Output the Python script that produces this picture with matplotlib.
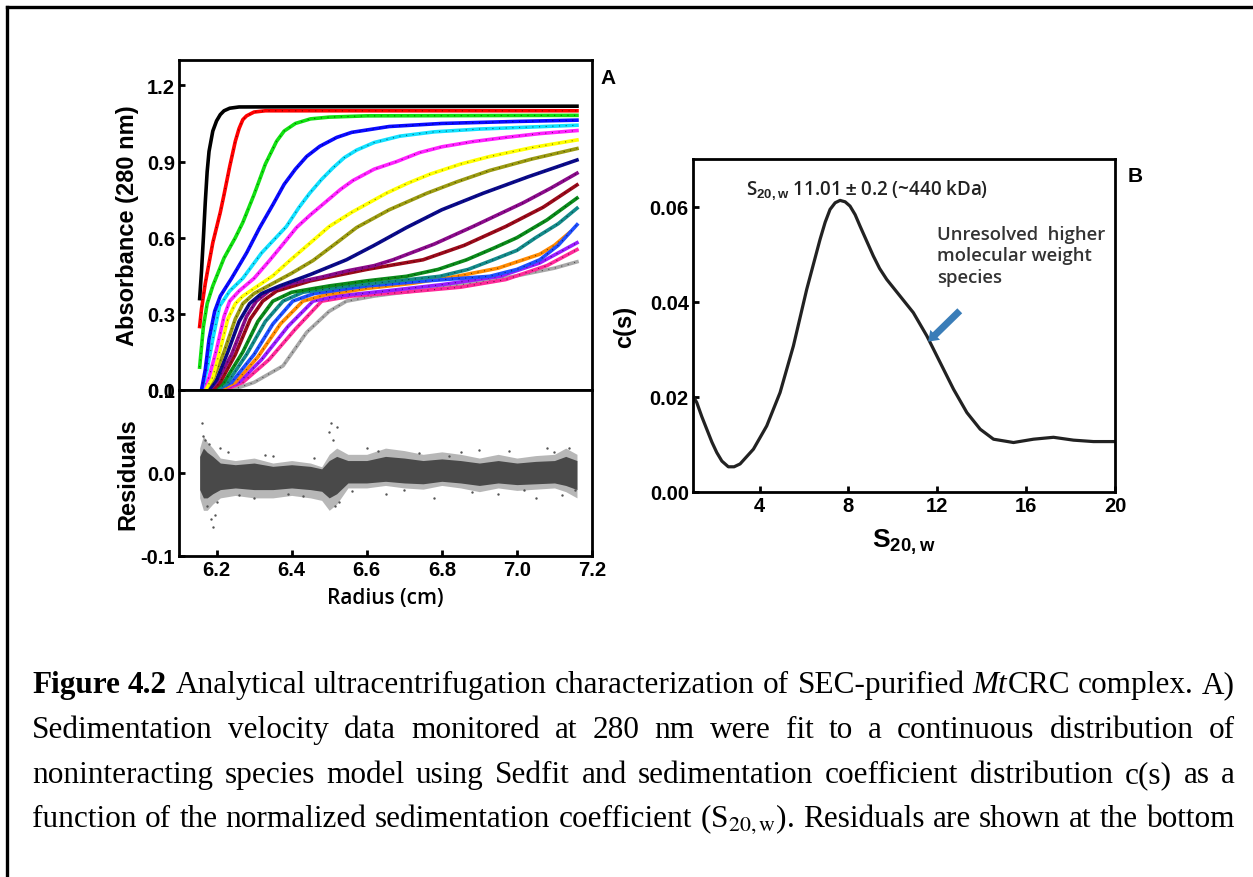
import re
import matplotlib
matplotlib.use("Agg")
import matplotlib.pyplot as plt
from matplotlib.lines import Line2D

W, H = 1253, 878

# ---- panel A: sedimentation boundaries (radius in cm, absorbance) ----
r_black = [6.155, 6.16, 6.165, 6.17, 6.175, 6.18, 6.19, 6.2, 6.21, 6.22, 6.235, 6.26, 7.16]
a_black = [0.36, 0.47, 0.60, 0.74, 0.86, 0.94, 1.02, 1.06, 1.085, 1.10, 1.11, 1.115, 1.118]
r_red = [6.155, 6.16, 6.17, 6.19, 6.21, 6.22, 6.235, 6.25, 6.26, 6.27, 6.28, 6.30, 6.33, 7.16]
a_red = [0.25, 0.32, 0.42, 0.58, 0.70, 0.77, 0.88, 0.98, 1.03, 1.065, 1.08, 1.095, 1.10, 1.10]
r_green = [6.155, 6.165, 6.175, 6.19, 6.22, 6.25, 6.27, 6.30, 6.33, 6.36, 6.38, 6.41, 6.45, 6.5, 6.6, 7.16]
a_green = [0.09, 0.25, 0.34, 0.41, 0.52, 0.60, 0.66, 0.77, 0.89, 0.98, 1.02, 1.05, 1.068, 1.075, 1.08, 1.082]
r_blue = [6.16, 6.17, 6.18, 6.195, 6.21, 6.24, 6.28, 6.315, 6.35, 6.38, 6.41, 6.44, 6.475, 6.52, 6.56,
          6.66, 6.8, 7.0, 7.16]
a_blue = [0.0, 0.08, 0.2, 0.31, 0.37, 0.44, 0.54, 0.64, 0.73, 0.81, 0.87, 0.92, 0.96, 0.995, 1.015,
          1.038, 1.05, 1.058, 1.063]
r_cyan = [6.16, 6.175, 6.19, 6.208, 6.235, 6.27, 6.32, 6.386, 6.42, 6.448, 6.48, 6.51, 6.54, 6.573, 6.62,
          6.688, 6.78, 6.9, 7.16]
a_cyan = [0.0, 0.08, 0.2, 0.33, 0.39, 0.44, 0.54, 0.644, 0.72, 0.775, 0.83, 0.875, 0.915, 0.945, 0.975,
          1.0, 1.017, 1.028, 1.043]
r_magenta = [6.16, 6.18, 6.2, 6.22, 6.235, 6.26, 6.3, 6.341, 6.38, 6.413, 6.45, 6.49, 6.53, 6.563, 6.62,
             6.68, 6.74, 6.8, 6.88, 6.97, 7.06, 7.16]
a_magenta = [0.0, 0.05, 0.16, 0.29, 0.35, 0.39, 0.44, 0.51, 0.58, 0.64, 0.69, 0.74, 0.79, 0.825, 0.87,
             0.9, 0.935, 0.958, 0.978, 0.995, 1.01, 1.022]
r_yellow = [6.17, 6.19, 6.21, 6.23, 6.25, 6.27, 6.3, 6.35, 6.395, 6.45, 6.5, 6.56, 6.652, 6.71, 6.768,
            6.85, 6.928, 7.04, 7.16]
a_yellow = [0.0, 0.05, 0.16, 0.28, 0.34, 0.37, 0.40, 0.45, 0.51, 0.58, 0.644, 0.70, 0.775, 0.815, 0.85,
            0.89, 0.92, 0.955, 0.985]
r_olive = [6.17, 6.19, 6.22, 6.25, 6.27, 6.3, 6.35, 6.4, 6.457, 6.52, 6.573, 6.66, 6.76, 6.84, 6.928,
           7.04, 7.16]
a_olive = [0.0, 0.04, 0.15, 0.28, 0.34, 0.38, 0.42, 0.46, 0.51, 0.58, 0.64, 0.71, 0.775, 0.82, 0.865,
           0.91, 0.951]
r_navy = [6.18, 6.2, 6.23, 6.26, 6.288, 6.32, 6.368, 6.45, 6.546, 6.62, 6.706, 6.8, 6.91, 7.03, 7.16]
a_navy = [0.0, 0.04, 0.15, 0.27, 0.34, 0.38, 0.41, 0.455, 0.513, 0.57, 0.64, 0.71, 0.775, 0.84, 0.906]
r_purple = [6.18, 6.2, 6.24, 6.28, 6.306, 6.34, 6.4, 6.48, 6.55, 6.62, 6.67, 6.78, 6.883, 7.016, 7.09, 7.16]
a_purple = [0.0, 0.03, 0.14, 0.29, 0.35, 0.39, 0.42, 0.445, 0.47, 0.49, 0.513, 0.575, 0.644, 0.737, 0.795,
            0.854]
r_maroon = [6.19, 6.21, 6.25, 6.29, 6.323, 6.36, 6.45, 6.6, 6.75, 6.86, 6.97, 7.07, 7.16]
a_maroon = [0.0, 0.03, 0.14, 0.28, 0.35, 0.39, 0.43, 0.475, 0.513, 0.57, 0.644, 0.72, 0.808]
r_dkgreen = [6.19, 6.22, 6.27, 6.31, 6.35, 6.4, 6.5, 6.6, 6.706, 6.79, 6.866, 6.94, 7.0, 7.08, 7.16]
a_dkgreen = [0.0, 0.03, 0.15, 0.27, 0.35, 0.385, 0.41, 0.43, 0.448, 0.475, 0.513, 0.56, 0.6, 0.67, 0.756]
r_teal = [6.2, 6.23, 6.28, 6.33, 6.377, 6.43, 6.55, 6.68, 6.795, 6.87, 6.937, 7.0, 7.05, 7.11, 7.16]
a_teal = [0.0, 0.03, 0.14, 0.27, 0.35, 0.385, 0.41, 0.43, 0.448, 0.475, 0.513, 0.55, 0.6, 0.655, 0.716]
r_royal = [6.2, 6.24, 6.3, 6.35, 6.403, 6.46, 6.6, 6.76, 6.928, 7.0, 7.061, 7.11, 7.16]
a_royal = [0.0, 0.03, 0.14, 0.26, 0.35, 0.38, 0.41, 0.43, 0.448, 0.475, 0.513, 0.57, 0.651]
r_orange = [6.21, 6.25, 6.31, 6.37, 6.43, 6.49, 6.6, 6.72, 6.84, 6.95, 7.061, 7.1, 7.14]
a_orange = [0.0, 0.03, 0.13, 0.26, 0.35, 0.375, 0.40, 0.42, 0.448, 0.48, 0.535, 0.57, 0.62]
r_violet = [6.21, 6.26, 6.32, 6.39, 6.457, 6.52, 6.65, 6.8, 6.955, 7.06, 7.16]
a_violet = [0.0, 0.03, 0.12, 0.25, 0.35, 0.37, 0.39, 0.415, 0.448, 0.5, 0.58]
r_pink = [6.22, 6.27, 6.34, 6.41, 6.48, 6.56, 6.7, 6.85, 6.97, 7.08, 7.16]
a_pink = [0.0, 0.03, 0.12, 0.24, 0.35, 0.37, 0.385, 0.405, 0.435, 0.49, 0.553]
r_gray = [6.24, 6.3, 6.377, 6.44, 6.5, 6.546, 6.62, 6.75, 6.9, 7.0, 7.1, 7.16]
a_gray = [0.0, 0.03, 0.095, 0.227, 0.31, 0.35, 0.37, 0.395, 0.425, 0.45, 0.48, 0.505]

# residual band (upper / lower edge) and stray points
res_r = [6.155, 6.165, 6.175, 6.19, 6.21, 6.25, 6.3, 6.35, 6.4, 6.45, 6.48, 6.5, 6.52, 6.55,
         6.6, 6.65, 6.7, 6.75, 6.8, 6.85, 6.9, 6.95, 7.0, 7.05, 7.1, 7.13, 7.16]
res_hi = [0.02, 0.03, 0.025, 0.02, 0.012, 0.01, 0.012, 0.008, 0.01, 0.008, 0.005, 0.015, 0.02, 0.015,
          0.015, 0.02, 0.018, 0.015, 0.017, 0.015, 0.012, 0.015, 0.012, 0.014, 0.015, 0.02, 0.015]
res_lo = [-0.02, -0.03, -0.03, -0.025, -0.02, -0.018, -0.02, -0.02, -0.018, -0.02, -0.022, -0.03, -0.025, -0.012,
          -0.012, -0.01, -0.012, -0.013, -0.01, -0.012, -0.015, -0.012, -0.014, -0.013, -0.012, -0.015, -0.02]
out_r = [6.16, 6.165, 6.17, 6.175, 6.185, 6.19, 6.195, 6.2, 6.21, 6.23, 6.3, 6.35, 6.43, 6.5, 6.505,
         6.51, 6.515, 6.52, 6.525, 6.6, 6.65, 6.78, 6.85, 6.9, 6.95, 7.05, 7.1, 7.14, 7.155,
         6.18, 6.26, 6.33, 6.39, 6.46, 6.56, 6.63, 6.7, 6.74, 6.82, 6.88, 6.98, 7.02, 7.08, 7.12]
out_v = [0.06, 0.045, 0.04, -0.04, -0.055, -0.065, -0.05, -0.035, 0.03, 0.025, -0.03, 0.02, -0.028, 0.05, 0.06,
         0.04, -0.04, 0.055, -0.035, 0.03, -0.025, -0.03, 0.025, 0.028, -0.025, -0.03, 0.025, 0.03, -0.02,
         0.035, -0.027, 0.022, -0.025, 0.018, -0.022, 0.026, -0.02, 0.024, 0.021, -0.023, 0.027, -0.021, 0.03, -0.026]

# ---- panel B: c(s) distribution ----
s_vals = [1.0, 1.17, 1.4, 1.62, 1.85, 2.07, 2.3, 2.59, 2.85, 3.12, 3.72, 4.32, 4.92, 5.52, 6.12, 6.72,
          6.95, 7.17, 7.4, 7.62, 7.85, 8.07, 8.3, 8.52, 9.12, 9.4, 9.72, 10.32, 10.92, 11.53, 12.13,
          12.73, 13.33, 13.93, 14.53, 15.43, 16.33, 17.23, 18.13, 19.03, 20.0]
cs_vals = [0.0202, 0.0188, 0.0158, 0.0132, 0.0105, 0.0083, 0.0065, 0.0053, 0.0053, 0.0059, 0.0090,
           0.0139, 0.0209, 0.0307, 0.0426, 0.0531, 0.0567, 0.0594, 0.0608, 0.0613, 0.0610, 0.0601,
           0.0583, 0.0559, 0.0496, 0.0470, 0.0447, 0.0412, 0.0377, 0.0328, 0.0272, 0.0216, 0.0167,
           0.0132, 0.0111, 0.0104, 0.0111, 0.0115, 0.0109, 0.0106, 0.0106]

caption = [
    "**Figure** **4.2** Analytical ultracentrifugation characterization of SEC-purified *Mt*CRC complex. A)",
    "Sedimentation velocity data monitored at 280 nm were fit to a continuous distribution of",
    "noninteracting species model using Sedfit and sedimentation coefficient distribution c(s) as a",
    r"function of the normalized sedimentation coefficient (S$_{20,\mathrm{w}}$). Residuals are shown at the bottom",
]

plt.rcParams["font.family"] = "Liberation Sans"
plt.rcParams["mathtext.fontset"] = "custom"
plt.rcParams["mathtext.rm"] = "Liberation Sans:bold"
plt.rcParams["mathtext.bf"] = "Liberation Sans:bold"

fig = plt.figure(figsize=(W / 100, H / 100), dpi=100)


def px(x0, y0, x1, y1):
    return [x0 / W, 1 - y1 / H, (x1 - x0) / W, (y1 - y0) / H]


def style_ax(ax):
    for sp in ax.spines.values():
        sp.set_linewidth(2.0)
    ax.tick_params(direction="in", length=4, width=2, labelsize=14.5, pad=3)
    plt.setp(ax.get_xticklabels() + ax.get_yticklabels(), fontweight="bold")


# outer frame (left and top edges only)
fig.add_artist(Line2D([7 / W, 7 / W], [0, 1 - 8 / H], transform=fig.transFigure, color="k", lw=2.4))
fig.add_artist(Line2D([7 / W, 1], [1 - 8 / H, 1 - 8 / H], transform=fig.transFigure, color="k", lw=2.4))

# panel A top
axA = fig.add_axes(px(179, 61, 592, 391))
curves = [
    (r_gray, a_gray, "#a8a8a8"), (r_pink, a_pink, "#ff2a9a"), (r_violet, a_violet, "#9a1cff"),
    (r_orange, a_orange, "#ff8a00"), (r_royal, a_royal, "#1f4fff"), (r_teal, a_teal, "#138a8a"),
    (r_dkgreen, a_dkgreen, "#0a8a1a"), (r_maroon, a_maroon, "#9a0a1a"), (r_purple, a_purple, "#8a0a8a"),
    (r_navy, a_navy, "#0a0a8a"), (r_olive, a_olive, "#9a9a10"), (r_yellow, a_yellow, "#ffff00"),
    (r_magenta, a_magenta, "#ff20ff"), (r_cyan, a_cyan, "#10e0ff"), (r_blue, a_blue, "#0a0aff"),
    (r_green, a_green, "#10e010"), (r_red, a_red, "#ff0000"), (r_black, a_black, "#000000"),
]
for r, a, c in curves:
    axA.plot(r, a, color=c, lw=2.6, solid_joinstyle="round")
    axA.plot(r, a, color="k", lw=0.8, ls=(0, (1, 5)), alpha=0.55)
axA.set_xlim(6.1, 7.2)
axA.set_ylim(0, 1.3)
axA.set_yticks([0.0, 0.3, 0.6, 0.9, 1.2])
axA.set_yticklabels(["0.0", "0.3", "0.6", "0.9", "1.2"])
axA.set_xticks([])
style_ax(axA)
axA.set_ylabel("Absorbance (280 nm)", fontsize=17, weight="bold")
axA.yaxis.set_label_coords(-0.097, 0.5)

# panel A residuals
axR = fig.add_axes(px(179, 391, 592, 557))
axR.fill_between(res_r, [v * 1.5 for v in res_lo], [v * 1.5 for v in res_hi], color="#333333", alpha=0.35, lw=0)
axR.fill_between(res_r, res_lo, res_hi, color="#1a1a1a", alpha=0.7, lw=0)
axR.scatter(out_r, out_v, s=3, color="#555555", lw=0)
axR.set_xlim(6.1, 7.2)
axR.set_ylim(-0.1, 0.1)
axR.set_yticks([-0.1, 0.0, 0.1])
axR.set_yticklabels(["-0.1", "0.0", "0.1"])
axR.set_xticks([6.2, 6.4, 6.6, 6.8, 7.0, 7.2])
axR.set_xticklabels(["6.2", "6.4", "6.6", "6.8", "7.0", "7.2"])
style_ax(axR)
axR.set_ylabel("Residuals", fontsize=17, weight="bold")
axR.yaxis.set_label_coords(-0.097, 0.5)
axR.set_xlabel("Radius (cm)", fontsize=15, family="Open Sans", weight="semibold", labelpad=6)
fig.text(600 / W, 1 - 79 / H, "A", fontsize=15, weight="bold", ha="left", va="center")

# panel B
axB = fig.add_axes(px(693, 160, 1115, 493))
axB.plot(s_vals, cs_vals, color="#222222", lw=2.3, solid_joinstyle="round")
axB.set_xlim(1, 20)
axB.set_ylim(0, 0.07)
axB.set_xticks([4, 8, 12, 16, 20])
axB.set_yticks([0.0, 0.02, 0.04, 0.06])
axB.set_yticklabels(["0.00", "0.02", "0.04", "0.06"])
style_ax(axB)
axB.set_ylabel("c(s)", fontsize=17, weight="bold")
axB.yaxis.set_label_coords(-0.135, 0.5)
axB.set_xlabel(r"$\mathbf{S_{20,w}}$", fontsize=19, labelpad=8)
axB.text(8.84, 0.0636, r"S$_{\mathrm{20,w}}$ 11.01 $\pm$ 0.2 (~440 kDa)", family="Open Sans",
         weight="semibold", fontsize=13.5, ha="center", va="center", color="#222222")
axB.text(12.0, 0.0562, "Unresolved  higher\nmolecular weight\nspecies", family="Open Sans",
         weight="semibold", fontsize=13.3, ha="left", va="top", color="#333333", linespacing=1.25)
axB.annotate("", xy=(11.5, 0.0312), xytext=(13.1, 0.0385),
             arrowprops=dict(arrowstyle="simple,head_length=0.7,head_width=1.0,tail_width=0.5",
                             color="#3a7db8", lw=0))
fig.text(1128 / W, 1 - 177 / H, "B", fontsize=15, weight="bold", ha="left", va="center")

# caption, justified between x=32 and x=1235
fig.canvas.draw()
rend = fig.canvas.get_renderer()
x_left, x_right = 32, 1235
baselines = [693, 738, 783, 827]
for line, yb in zip(caption, baselines):
    words = line.split(" ")
    groups = []
    for w in words:
        segs = []
        for bold, ital, plain in re.findall(r"\*\*(.+?)\*\*|\*(.+?)\*|([^*]+)", w):
            txt = bold or ital or plain
            t = fig.text(0, 1 - yb / H, txt, family="Liberation Serif", fontsize=22.5,
                         weight="bold" if bold else "normal", style="italic" if ital else "normal",
                         va="baseline", ha="left", math_fontfamily="stix")
            segs.append(t)
        groups.append(segs)
    widths = [[t.get_window_extent(rend).width for t in g] for g in groups]
    total = sum(sum(w) for w in widths)
    gap = (x_right - x_left - total) / (len(groups) - 1)
    x = x_left
    for g, ws in zip(groups, widths):
        for t, w in zip(g, ws):
            t.set_x(x / W)
            x += w
        x += gap

fig.savefig("out.png", dpi=100)
